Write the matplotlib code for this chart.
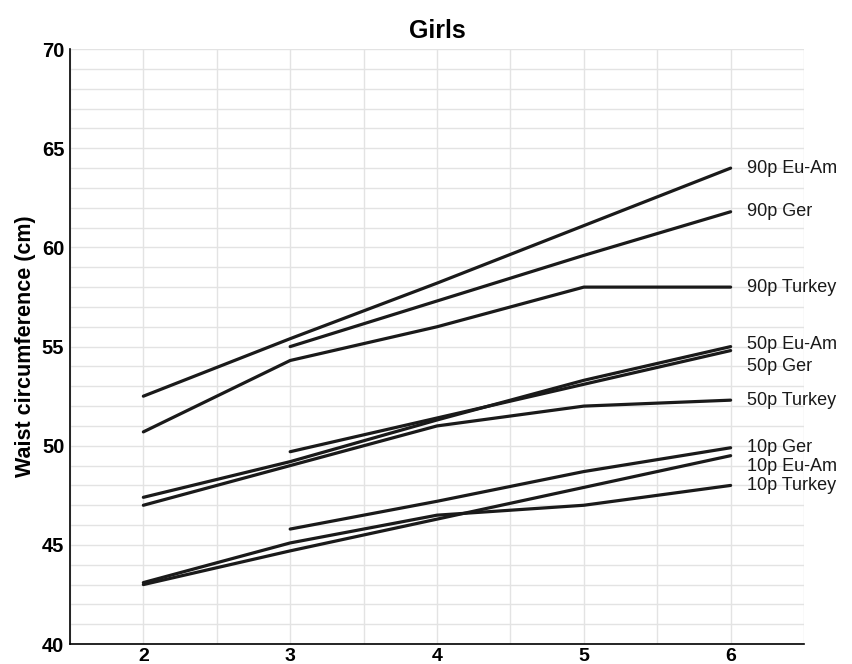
import numpy as np
import matplotlib.pyplot as plt

plt.rcParams['font.family'] = ['Liberation Sans', 'DejaVu Sans']

# Waist circumference percentiles (cm) by age (years)
ages = [2, 3, 4, 5, 6]
ages_ger = [3, 4, 5, 6]

p90_euam = [52.5, 55.4, 58.2, 61.1, 64.0]
p90_ger = [55.0, 57.3, 59.6, 61.8]
p90_turkey = [50.7, 54.3, 56.0, 58.0, 58.0]

p50_euam = [47.4, 49.2, 51.3, 53.3, 55.0]
p50_ger = [49.7, 51.4, 53.1, 54.8]
p50_turkey = [47.0, 49.0, 51.0, 52.0, 52.3]

p10_ger = [45.8, 47.2, 48.7, 49.9]
p10_euam = [43.0, 44.7, 46.3, 47.9, 49.5]
p10_turkey = [43.1, 45.1, 46.5, 47.0, 48.0]

series = [
    ("90p Eu-Am", ages, p90_euam, 64.0),
    ("90p Ger", ages_ger, p90_ger, 61.8),
    ("90p Turkey", ages, p90_turkey, 58.0),
    ("50p Eu-Am", ages, p50_euam, 55.1),
    ("50p Ger", ages_ger, p50_ger, 54.0),
    ("50p Turkey", ages, p50_turkey, 52.3),
    ("10p Ger", ages_ger, p10_ger, 49.9),
    ("10p Eu-Am", ages, p10_euam, 48.95),
    ("10p Turkey", ages, p10_turkey, 48.0),
]

fig = plt.figure(figsize=(8.53, 6.64), dpi=100)
ax = fig.add_axes([0.082, 0.030, 0.8606, 0.896])

for name, x, y, ylab in series:
    ax.plot(x, y, color='#1a1a1a', lw=2.3, solid_capstyle='round', zorder=3)
    ax.text(6.11, ylab, name, fontsize=13, va='center', ha='left', color='#1a1a1a')

ax.set_xlim(1.5, 6.5)
ax.set_ylim(40, 70)
ax.set_xticks([2, 3, 4, 5, 6])
ax.set_xticks(np.arange(1.5, 6.51, 0.5), minor=True)
ax.set_yticks([40, 45, 50, 55, 60, 65, 70])
ax.set_yticks(np.arange(40, 71, 1), minor=True)
ax.grid(which='both', color='#e3e3e3', lw=1.0, zorder=0)
ax.tick_params(which='both', length=0, labelsize=14.5)
ax.tick_params(axis='x', pad=3, labelsize=14)
ax.tick_params(axis='y', pad=4)
for lbl in ax.get_xticklabels() + ax.get_yticklabels():
    lbl.set_fontweight('bold')

ax.spines['top'].set_visible(False)
ax.spines['right'].set_visible(False)
ax.spines['left'].set_linewidth(1.2)
ax.spines['bottom'].set_linewidth(1.2)

ax.set_ylabel('Waist circumference (cm)', fontsize=15.5, fontweight='bold', labelpad=4)
ax.set_title('Girls', fontsize=18, fontweight='bold', pad=8)

fig.savefig('out.png', dpi=100)
